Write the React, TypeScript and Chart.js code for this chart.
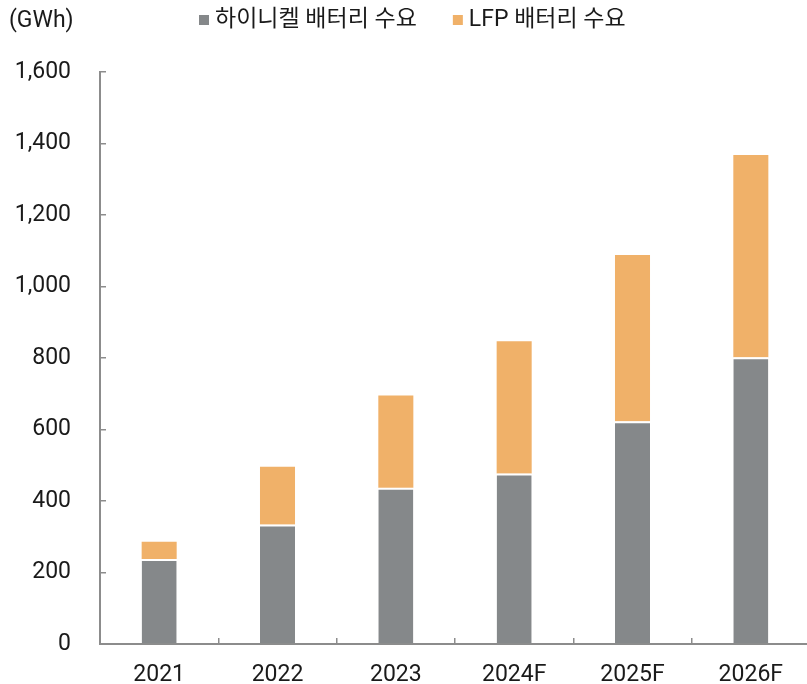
import React, { useEffect, useRef } from 'react';
import { Chart, registerables } from 'chart.js';

Chart.register(...registerables);

const categories = ['2021', '2022', '2023', '2024F', '2025F', '2026F'];
const highNickelDemand = [238, 334, 437, 477, 623, 802];
const lfpDemand = [48, 162, 258, 370, 465, 566];
const seriesLabels = ['하이니켈 배터리 수요', 'LFP 배터리 수요'];
const unitLabel = '(GWh)';
const yMin = 0;
const yMax = 1600;
const yStep = 200;

const GRAY = '#85888a';
const ORANGE = '#f0b169';
const AXIS = '#8c8c8c';
const TEXT = '#1a1a1a';
const FONT_FAMILY = 'Roboto, "Noto Sans CJK KR", sans-serif';

const headerPlugin = {
  id: 'headerPlugin',
  afterDraw(chart: any) {
    const ctx = chart.ctx as CanvasRenderingContext2D;
    ctx.save();
    ctx.font = `23px ${FONT_FAMILY}`;
    ctx.fillStyle = TEXT;
    ctx.textBaseline = 'middle';
    ctx.textAlign = 'left';
    ctx.fillText(unitLabel, 9, 21);

    let x = 199;
    const y = 20;
    chart.data.datasets.forEach((ds: any) => {
      ctx.fillStyle = ds.backgroundColor;
      ctx.fillRect(x, y - 5, 10, 10);
      x += 16;
      ctx.fillStyle = TEXT;
      ctx.fillText(ds.label, x, y);
      x += ctx.measureText(ds.label).width + 36;
    });
    ctx.restore();
  },
};

export default function App() {
  const canvasRef = useRef<HTMLCanvasElement>(null);

  useEffect(() => {
    document.body.style.margin = '0';
    const canvas = canvasRef.current;
    if (!canvas) return;
    Chart.defaults.font.family = FONT_FAMILY;
    Chart.defaults.font.size = 23;
    Chart.defaults.color = TEXT;

    const chart = new Chart(canvas, {
      type: 'bar',
      data: {
        labels: categories,
        datasets: [
          {
            label: seriesLabels[0],
            data: highNickelDemand,
            backgroundColor: GRAY,
            borderColor: '#ffffff',
            borderWidth: { top: 2, left: 0, right: 0, bottom: 0 },
            borderSkipped: false,
            categoryPercentage: 1,
            barPercentage: 0.296,
          },
          {
            label: seriesLabels[1],
            data: lfpDemand,
            backgroundColor: ORANGE,
            borderWidth: 0,
            categoryPercentage: 1,
            barPercentage: 0.296,
          },
        ],
      },
      options: {
        responsive: false,
        animation: false,
        layout: { padding: { top: 72, left: 0, right: 0, bottom: 0 } },
        plugins: {
          legend: { display: false },
          tooltip: { enabled: false },
        },
        scales: {
          x: {
            stacked: true,
            grid: {
              offset: true,
              drawOnChartArea: false,
              drawTicks: true,
              tickLength: -6,
              color: AXIS,
              lineWidth: 1.5,
            },
            border: { display: true, color: AXIS, width: 2 },
            ticks: { padding: 23, color: TEXT, font: { size: 23 }, maxRotation: 0 },
            afterFit: (scale: any) => {
              scale.height = 40;
            },
          },
          y: {
            stacked: true,
            min: yMin,
            max: yMax,
            grid: {
              drawOnChartArea: false,
              drawTicks: true,
              tickLength: -6,
              color: AXIS,
              lineWidth: 1.5,
            },
            border: { display: true, color: AXIS, width: 2 },
            ticks: {
              stepSize: yStep,
              padding: 35,
              color: TEXT,
              font: { size: 23 },
              callback: (v: any) => Number(v).toLocaleString('en-US'),
            },
            afterFit: (scale: any) => {
              scale.width = 100;
              scale.paddingTop = 0;
              scale.paddingBottom = 0;
            },
          },
        },
      },
      plugins: [headerPlugin],
    });
    return () => chart.destroy();
  }, []);

  return (
    <div style={{ width: 807, height: 684, overflow: 'hidden', background: '#fff' }}>
      <canvas ref={canvasRef} width={810} height={684} style={{ display: 'block' }} />
    </div>
  );
}
